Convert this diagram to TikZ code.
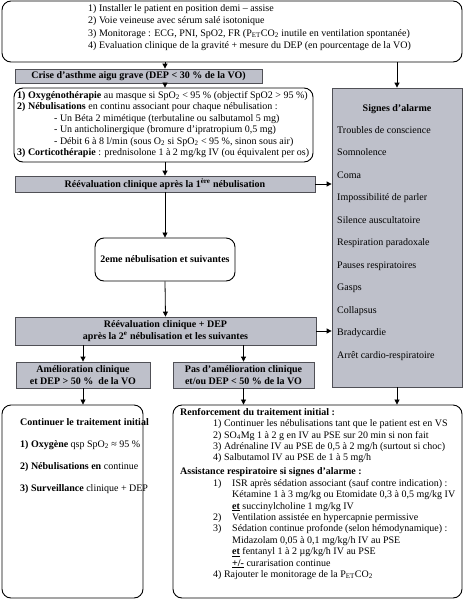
\documentclass[tikz,border=0pt]{standalone}
\usepackage{fontspec}
\setmainfont{Liberation Serif}
\usetikzlibrary{arrows.meta}
\definecolor{boxgray}{RGB}{190,192,202}
\definecolor{edgegray}{RGB}{80,80,86}
\newcommand\myfs{\fontsize{10}{11.5}\selectfont}
\newcommand\ul[1]{\underline{\textbf{#1}}}
\begin{document}
\begin{tikzpicture}[x=1pt,y=-1pt,
  rbox/.style={draw=black, line width=0.9pt, rounded corners=9pt, inner sep=0pt},
  gbox/.style={draw=edgegray, fill=boxgray, line width=0.8pt, inner sep=0pt, font=\fontsize{10}{12}\selectfont\bfseries, align=center},
  txt/.style={inner sep=0pt, anchor=north west, align=left},
  arr/.style={-{Triangle[length=5pt,width=5pt]}, line width=0.8pt},
]
\useasboundingbox (0,0) rectangle (464,600);
% boxes
\node[rbox, minimum width=460, minimum height=61] (top) at (232,31.5) {};
\node[gbox, minimum width=247, minimum height=14] (crise) at (138.5,76) {Crise d'asthme aigu grave (DEP < 30 \% de la VO)};
\node[rbox, minimum width=299, minimum height=74] (oxy) at (163.5,125) {};
\node[gbox, minimum width=300, minimum height=16] (reev1) at (165,184) {Réévaluation clinique après la 1\textsuperscript{ère} nébulisation};
\node[rbox, minimum width=140, minimum height=43, font=\myfs\bfseries] (neb2) at (165,259.5) {2eme nébulisation et suivantes};
\node[gbox, minimum width=301, minimum height=28] (reev2) at (165.5,331) {Réévaluation clinique + DEP\\après la 2\textsuperscript{e} nébulisation et les suivantes};
\node[gbox, minimum width=134, minimum height=26] (amel) at (83,375) {Amélioration clinique\\et DEP > 50 \%\ \ de la VO};
\node[gbox, minimum width=141, minimum height=26] (pas) at (243.5,375) {Pas d'amélioration clinique\\et/ou DEP < 50 \% de la VO};
\node[rbox, minimum width=141, minimum height=193] (cont) at (72.5,501.5) {};
\node[rbox, minimum width=289, minimum height=193] (renf) at (317.5,501.5) {};
\node[gbox, minimum width=130, minimum height=299] (signes) at (397,237.5) {};
% texts
\node[txt, font=\fontsize{10}{12.5}\selectfont] (toptxt) at (88,4) {1) Installer le patient en position demi -- assise\\
2) Voie veineuse avec sérum salé isotonique\\
3) Monitorage : ECG, PNI, SpO2, FR (P\textsubscript{ET}CO\textsubscript{2} inutile en ventilation spontanée)\\
4) Evaluation clinique de la gravité + mesure du DEP (en pourcentage de la VO)};
\node[txt, font=\myfs] (oxytxt) at (17,91) {\textbf{1) Oxygénothérapie} au masque si SpO\textsubscript{2} < 95 \% (objectif SpO2 > 95 \%)\\
\textbf{2) Nébulisations} en continu associant pour chaque nébulisation :\\
\hspace*{37pt}- Un Béta 2 mimétique (terbutaline ou salbutamol 5 mg)\\
\hspace*{37pt}- Un anticholinergique (bromure d'ipratropium 0,5 mg)\\
\hspace*{37pt}- Débit 6 à 8 l/min (sous O\textsubscript{2} si SpO\textsubscript{2} < 95 \%, sinon sous air)\\
\textbf{3) Corticothérapie} : prednisolone 1 à 2 mg/kg IV (ou équivalent per os)};
\node[inner sep=0pt, font=\fontsize{10}{11}\selectfont\bfseries] (sighead) at (397,109) {Signes d'alarme};
\node[txt, font=\fontsize{10}{22.5}\selectfont] (sigtxt) at (337,126) {Troubles de conscience\\
Somnolence\\ Coma\\ Impossibilité de parler\\ Silence auscultatoire\\ Respiration paradoxale\\
Pauses respiratoires\\ Gasps\\ Collapsus\\ Bradycardie\\ Arrêt cardio-respiratoire};
\node[txt, font=\fontsize{10}{22}\selectfont] (conttxt) at (20,418) {\textbf{Continuer le traitement initial}\\
\textbf{1) Oxygène} qsp SpO\textsubscript{2} ≈ 95 \%\\
\textbf{2) Nébulisations en} continue\\
\textbf{3) Surveillance} clinique + DEP};
\node[txt, font=\fontsize{10}{11.4}\selectfont] (renftxt) at (180,408) {\textbf{Renforcement du traitement initial :}\\
\hspace*{33pt}1) Continuer les nébulisations tant que le patient est en VS\\
\hspace*{33pt}2) SO\textsubscript{4}Mg 1 à 2 g en IV au PSE sur 20 min si non fait\\
\hspace*{33pt}3) Adrénaline IV au PSE de 0,5 à 2 mg/h (surtout si choc)\\
\hspace*{33pt}4) Salbutamol IV au PSE de 1 à 5 mg/h\\[2.6pt]
\textbf{Assistance respiratoire si signes d'alarme :}\\
\hspace*{33pt}\makebox[19pt][l]{1)}ISR après sédation associant (sauf contre indication) :\\
\hspace*{52pt}Kétamine 1 à 3 mg/kg ou Etomidate 0,3 à 0,5 mg/kg IV\\
\hspace*{52pt}\ul{et} succinylcholine 1 mg/kg IV\\
\hspace*{33pt}\makebox[19pt][l]{2)}Ventilation assistée en hypercapnie permissive\\
\hspace*{33pt}\makebox[19pt][l]{3)}Sédation continue profonde (selon hémodynamique) :\\
\hspace*{52pt}Midazolam 0,05 à 0,1 mg/kg/h IV au PSE\\
\hspace*{52pt}\ul{et} fentanyl 1 à 2 µg/kg/h IV au PSE\\
\hspace*{52pt}\ul{+/-} curarisation continue\\
\hspace*{33pt}4) Rajouter le monitorage de la P\textsubscript{ET}CO\textsubscript{2}};
% connectors
\draw[arr] (top.south -| reev1.center) -- (crise.north -| reev1.center);
\draw[arr] (crise.south -| reev1.center) -- (oxy.north -| reev1.center);
\draw[arr] (oxy.south -| reev1.center) -- (reev1.north);
\draw[arr] (reev1.south) -- (neb2.north);
\draw[arr] (neb2.south) -- (reev2.north);
\draw[arr] (top.south -| signes.north) -- (signes.north);
\draw[arr] (reev1.east) -- (reev1.east -| signes.west);
\draw[arr] (reev2.east) -- (reev2.east -| signes.west);
\draw[arr] (reev2.south -| amel.north) -- (amel.north);
\draw[arr] (reev2.south -| pas.north) -- (pas.north);
\draw[arr] (amel.south) -- (cont.north -| amel.south);
\draw[arr] (pas.south) -- (renf.north -| pas.south);
\draw[arr] (signes.south) -- (renf.north -| signes.south);
\end{tikzpicture}
\end{document}
